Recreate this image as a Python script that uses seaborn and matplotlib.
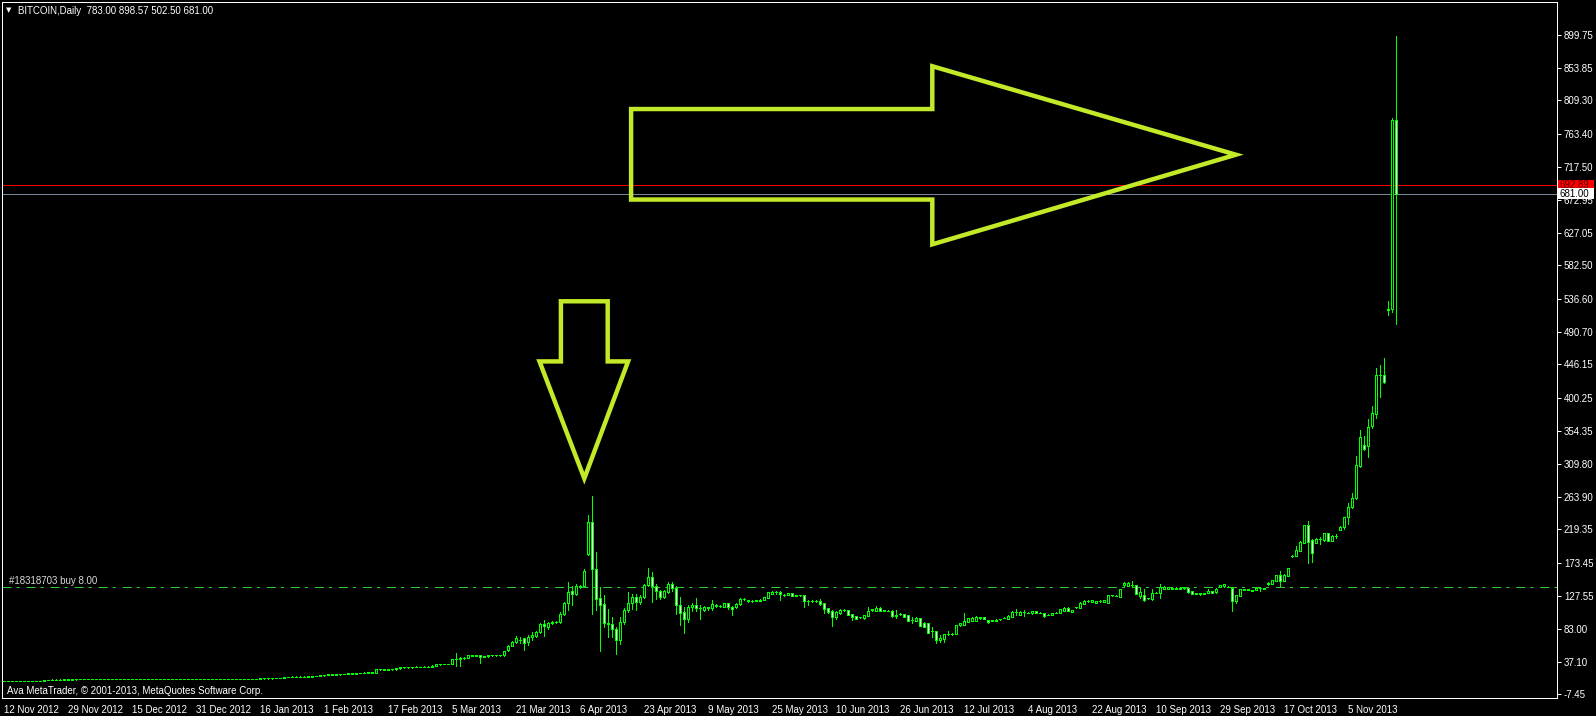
import matplotlib
matplotlib.use("Agg")
import matplotlib.pyplot as plt
import matplotlib.transforms as mtransforms
from matplotlib.patches import Rectangle, Polygon
import seaborn as sns

# daily OHLC (bar index 0 = 12 Nov 2012)
opens = [
    10.6, 10.7, 10.8, 10.7, 10.8, 10.9, 10.8, 10.9, 11.0, 10.9,
    11.0, 12.6, 12.7, 12.8, 12.7, 12.9, 13.0, 12.9, 13.1, 13.2,
    13.3, 13.5, 13.5, 13.4, 13.6, 13.5, 13.4, 13.5, 13.6, 13.4,
    13.5, 13.6, 13.7, 13.5, 13.4, 13.5, 13.6, 13.5, 13.4, 13.5,
    13.6, 13.7, 13.5, 13.4, 13.5, 13.6, 13.5, 13.4, 13.5, 13.4,
    13.5, 13.6, 13.5, 13.4, 13.5, 13.6, 13.7, 13.6, 13.5, 13.6,
    13.7, 13.8, 13.7, 13.8, 13.9, 14.3, 14.5, 14.4, 14.6, 14.5,
    14.8, 16.2, 16.4, 17.0, 16.9, 17.0, 16.8, 17.0, 17.8, 17.6,
    18.6, 19.0, 19.8, 19.5, 19.8, 20.4, 20.5, 21.2, 21.0, 21.6,
    21.9, 22.3, 23.0, 22.2, 27.2, 26.8, 26.6, 26.9, 26.7, 28.3,
    29.6, 29.9, 29.7, 30.0, 30.3, 30.1, 30.4, 30.2, 31.9, 33.8,
    34.2, 34.0, 34.6, 40.5, 40.8, 42.0, 42.6, 46.2, 45.6, 46.0,
    44.0, 44.6, 46.2, 46.0, 46.3, 46.1, 53.5, 59.4, 64.0, 67.5,
    69.5, 64.5, 72.0, 73.0, 78.0, 89.0, 85.0, 91.0, 92.4, 92.5,
    103.0, 117.7, 134.6, 130.5, 141.5, 142.0, 186.0, 229.0, 165.0, 124.6,
    117.0, 91.0, 88.8, 82.0, 67.2, 92.4, 108.5, 117.7, 126.0, 119.5,
    126.0, 142.5, 153.5, 141.5, 135.0, 126.8, 133.3, 144.0, 139.0, 115.0,
    106.0, 96.5, 112.0, 115.5, 111.7, 108.5, 112.5, 111.0, 116.0, 114.2,
    113.0, 118.0, 112.0, 112.0, 117.0, 123.5, 122.0, 121.0, 121.3, 121.5,
    122.2, 125.4, 131.0, 132.6, 133.0, 129.5, 129.0, 131.8, 128.4, 128.7,
    128.7, 121.0, 121.3, 121.0, 121.0, 117.7, 111.0, 107.0, 99.3, 104.0,
    108.8, 108.5, 103.0, 100.0, 98.2, 97.0, 100.2, 108.0, 107.0, 111.7,
    107.8, 107.8, 107.5, 100.5, 102.8, 103.0, 101.0, 94.5, 93.1, 97.5,
    91.0, 90.0, 79.8, 79.6, 67.2, 68.0, 75.3, 75.5, 75.5, 87.9,
    88.0, 92.4, 93.4, 93.4, 97.0, 99.0, 94.7, 94.0, 93.5, 95.5,
    97.8, 96.5, 99.3, 105.5, 102.0, 105.5, 105.0, 104.0, 107.0, 104.6,
    104.6, 101.8, 102.0, 104.6, 104.8, 107.0, 111.7, 106.0, 112.0, 111.7,
    117.0, 120.8, 120.0, 118.0, 120.8, 119.5, 118.5, 128.5, 128.3, 126.8,
    142.5, 141.5, 143.5, 143.0, 127.7, 129.0, 124.4, 123.2, 132.0, 131.4,
    137.8, 138.0, 138.0, 139.0, 138.0, 138.5, 138.3, 134.0, 131.0, 130.0,
    131.0, 132.5, 134.0, 133.0, 140.0, 141.0, 140.8, 139.2, 121.3, 128.2,
    136.0, 136.0, 135.5, 136.0, 138.5, 138.0, 143.8, 144.2, 148.8, 156.6,
    148.8, 155.3, 183.0, 183.0, 190.0, 201.0, 225.0, 205.0, 201.0, 206.3,
    205.0, 214.0, 204.0, 210.0, 218.5, 222.0, 236.0, 250.0, 262.0, 307.0,
    335.0, 334.5, 362.0, 378.0, 431.5, 431.7, 521.5, 522.0, 783.0,
]
highs = [
    10.9, 11.0, 11.0, 11.0, 11.1, 11.1, 11.1, 11.2, 11.2, 11.2,
    12.8, 12.9, 13.0, 13.0, 13.1, 13.2, 13.2, 13.3, 13.4, 13.5,
    13.7, 13.7, 13.7, 13.8, 13.8, 13.7, 13.7, 13.8, 13.8, 13.7,
    13.8, 13.9, 13.9, 13.7, 13.7, 13.8, 13.8, 13.7, 13.7, 13.8,
    13.9, 13.9, 13.7, 13.7, 13.8, 13.8, 13.7, 13.7, 13.7, 13.7,
    13.8, 13.8, 13.7, 13.7, 13.8, 13.9, 13.9, 13.8, 13.8, 13.9,
    14.0, 14.0, 14.0, 14.1, 14.6, 14.8, 14.8, 14.9, 14.9, 15.1,
    16.5, 16.9, 17.3, 17.3, 17.3, 17.2, 17.4, 18.1, 18.0, 18.9,
    19.3, 20.1, 20.1, 20.1, 20.7, 20.9, 21.5, 21.4, 21.9, 22.2,
    22.6, 23.6, 23.3, 27.6, 27.5, 27.2, 27.4, 27.2, 28.7, 30.0,
    30.3, 30.2, 30.5, 30.8, 30.6, 30.9, 30.8, 32.3, 34.3, 34.7,
    34.6, 34.8, 41.0, 49.0, 44.0, 43.5, 46.8, 46.6, 46.6, 46.5,
    45.0, 46.6, 46.6, 46.8, 46.6, 52.0, 61.0, 66.0, 73.0, 71.8,
    70.5, 74.0, 77.6, 79.0, 90.0, 94.7, 92.0, 94.0, 93.5, 106.0,
    120.0, 147.0, 141.0, 144.0, 143.0, 165.0, 239.0, 265.3, 188.3, 140.0,
    129.0, 109.4, 98.5, 85.5, 99.3, 111.5, 133.7, 130.5, 130.5, 129.0,
    144.0, 165.8, 161.0, 144.5, 136.0, 136.0, 147.5, 147.0, 141.0, 126.3,
    113.0, 115.0, 117.7, 125.5, 115.0, 114.0, 113.0, 122.0, 117.0, 115.0,
    118.5, 118.5, 114.0, 118.0, 125.0, 124.5, 122.5, 122.0, 122.3, 123.5,
    126.5, 133.5, 134.5, 135.0, 134.0, 130.0, 132.5, 132.3, 129.3, 129.5,
    129.3, 122.0, 122.0, 122.0, 124.0, 118.3, 111.5, 108.0, 107.0, 110.0,
    109.5, 109.0, 103.5, 100.5, 99.5, 101.5, 113.0, 110.5, 113.8, 112.3,
    109.0, 108.5, 108.0, 109.0, 104.0, 103.5, 101.5, 99.5, 98.3, 98.0,
    91.5, 90.5, 84.7, 80.0, 74.0, 76.0, 80.0, 77.0, 88.5, 91.0,
    104.8, 97.8, 98.5, 100.0, 99.5, 99.5, 95.2, 95.0, 95.8, 96.5,
    99.0, 101.0, 106.7, 109.4, 106.5, 108.0, 106.0, 107.5, 107.5, 105.5,
    105.0, 103.0, 104.5, 105.5, 110.0, 112.3, 112.0, 108.5, 113.0, 119.0,
    122.0, 122.0, 122.5, 121.5, 121.8, 122.5, 129.5, 129.5, 129.0, 137.5,
    147.0, 146.5, 148.4, 143.5, 139.3, 137.0, 125.5, 137.0, 133.0, 143.8,
    141.0, 140.5, 139.5, 139.5, 139.5, 140.5, 139.0, 134.5, 132.0, 132.5,
    132.0, 137.5, 134.5, 138.5, 143.5, 144.5, 141.5, 140.0, 129.5, 137.5,
    137.5, 138.0, 136.0, 139.5, 140.5, 139.0, 146.5, 150.2, 157.0, 162.0,
    157.5, 166.5, 184.5, 196.5, 203.0, 226.0, 231.0, 206.0, 207.0, 209.3,
    215.0, 215.0, 211.0, 213.0, 223.5, 237.0, 255.2, 269.0, 320.0, 356.0,
    348.0, 371.0, 389.0, 441.0, 445.5, 455.5, 533.5, 785.0, 898.57,
]
lows = [
    10.4, 10.5, 10.6, 10.5, 10.6, 10.7, 10.6, 10.7, 10.8, 10.7,
    10.9, 12.4, 12.5, 12.5, 12.5, 12.7, 12.7, 12.7, 12.9, 13.0,
    13.1, 13.3, 13.2, 13.2, 13.3, 13.2, 13.2, 13.3, 13.2, 13.2,
    13.3, 13.4, 13.3, 13.2, 13.2, 13.3, 13.3, 13.2, 13.2, 13.3,
    13.4, 13.3, 13.2, 13.2, 13.3, 13.3, 13.2, 13.2, 13.2, 13.2,
    13.3, 13.3, 13.2, 13.2, 13.3, 13.4, 13.4, 13.3, 13.3, 13.4,
    13.5, 13.5, 13.5, 13.6, 13.7, 14.1, 14.2, 14.2, 14.3, 14.3,
    14.6, 16.0, 16.2, 16.6, 16.7, 16.5, 16.6, 16.8, 17.3, 17.4,
    18.3, 18.8, 19.2, 19.2, 19.6, 20.1, 20.2, 20.7, 20.8, 21.3,
    21.6, 22.0, 21.8, 21.8, 26.3, 26.1, 26.2, 26.2, 26.4, 28.0,
    29.3, 29.3, 29.4, 29.7, 29.7, 29.8, 29.8, 29.9, 31.6, 33.4,
    33.6, 33.7, 34.3, 31.5, 31.8, 41.5, 42.2, 45.0, 45.1, 36.0,
    43.5, 44.2, 45.6, 45.8, 45.7, 45.8, 52.5, 58.5, 63.0, 62.7,
    53.5, 61.0, 67.0, 72.0, 77.0, 73.0, 83.0, 89.0, 91.0, 91.0,
    102.0, 108.5, 115.0, 129.0, 139.0, 141.0, 184.0, 103.0, 108.5, 52.0,
    85.5, 71.8, 71.8, 47.4, 62.0, 89.0, 106.0, 109.4, 109.0, 117.0,
    125.0, 141.0, 119.0, 124.0, 124.0, 125.0, 132.0, 135.0, 103.0, 88.0,
    77.0, 92.0, 107.0, 107.0, 96.0, 107.0, 109.0, 108.0, 113.0, 113.0,
    112.5, 110.0, 102.0, 111.0, 116.0, 122.0, 120.0, 120.0, 120.5, 121.0,
    121.8, 125.0, 130.5, 130.0, 122.2, 128.0, 128.5, 127.5, 127.8, 127.8,
    113.0, 116.0, 120.0, 120.0, 115.5, 104.0, 105.0, 86.5, 96.0, 103.0,
    107.5, 101.0, 94.7, 96.0, 97.0, 96.5, 100.0, 107.5, 106.5, 106.5,
    107.0, 106.8, 99.5, 97.0, 102.0, 99.0, 93.0, 91.0, 92.8, 86.0,
    85.0, 76.8, 71.0, 63.5, 65.0, 64.9, 74.0, 74.5, 75.0, 87.0,
    87.5, 92.0, 93.0, 93.0, 96.5, 96.0, 91.0, 93.5, 93.0, 95.0,
    97.0, 96.0, 99.0, 102.0, 101.5, 100.0, 104.0, 103.5, 104.0, 104.0,
    98.5, 101.0, 101.5, 104.0, 104.3, 106.5, 106.5, 105.5, 111.5, 111.0,
    116.5, 120.0, 119.5, 117.5, 120.0, 119.0, 118.0, 128.0, 127.5, 126.5,
    142.0, 141.0, 139.7, 130.0, 125.0, 121.0, 123.5, 122.0, 131.5, 125.5,
    137.3, 137.5, 137.5, 137.5, 137.5, 138.0, 132.5, 130.5, 130.5, 129.5,
    130.5, 132.0, 132.0, 132.5, 139.5, 140.5, 139.5, 107.5, 117.7, 127.5,
    135.5, 135.5, 134.5, 135.5, 135.0, 137.5, 143.5, 143.8, 148.3, 141.5,
    148.0, 155.0, 182.0, 182.5, 189.5, 200.2, 173.7, 175.0, 200.0, 199.3,
    204.0, 203.0, 203.0, 208.0, 218.0, 219.9, 226.8, 249.0, 261.0, 305.0,
    329.0, 319.0, 358.4, 372.0, 401.8, 420.5, 514.6, 518.0, 502.5,
]
closes = [
    10.7, 10.8, 10.7, 10.8, 10.9, 10.8, 10.9, 11.0, 10.9, 11.0,
    12.6, 12.7, 12.8, 12.7, 12.9, 13.0, 12.9, 13.1, 13.2, 13.3,
    13.5, 13.5, 13.4, 13.6, 13.5, 13.4, 13.5, 13.6, 13.4, 13.5,
    13.6, 13.7, 13.5, 13.4, 13.5, 13.6, 13.5, 13.4, 13.5, 13.6,
    13.7, 13.5, 13.4, 13.5, 13.6, 13.5, 13.4, 13.5, 13.4, 13.5,
    13.6, 13.5, 13.4, 13.5, 13.6, 13.7, 13.6, 13.5, 13.6, 13.7,
    13.8, 13.7, 13.8, 13.9, 14.3, 14.5, 14.4, 14.6, 14.5, 14.8,
    16.2, 16.6, 17.0, 16.9, 17.0, 16.8, 17.1, 17.8, 17.6, 18.6,
    19.0, 19.8, 19.5, 19.8, 20.4, 20.6, 21.2, 21.0, 21.6, 21.9,
    22.3, 23.0, 22.2, 27.2, 26.8, 26.6, 26.9, 26.7, 28.3, 29.6,
    29.9, 29.7, 30.0, 30.3, 30.1, 30.4, 30.2, 31.9, 33.8, 34.2,
    34.0, 34.4, 40.5, 40.8, 42.0, 42.6, 46.2, 45.6, 46.0, 44.0,
    44.6, 46.2, 46.0, 46.3, 46.1, 51.5, 59.4, 64.5, 70.0, 67.2,
    63.5, 71.8, 73.5, 78.0, 89.0, 86.0, 91.0, 92.3, 92.6, 103.0,
    117.7, 133.7, 130.5, 141.5, 142.0, 162.0, 229.0, 164.5, 124.0, 115.4,
    91.0, 89.0, 82.0, 67.2, 92.4, 108.5, 117.7, 126.0, 119.5, 126.0,
    142.5, 153.5, 142.0, 135.0, 126.8, 134.5, 144.2, 139.0, 115.0, 104.8,
    96.5, 112.0, 115.5, 111.0, 111.5, 112.7, 110.8, 116.3, 114.2, 114.0,
    117.8, 112.0, 110.0, 117.0, 124.0, 123.0, 121.0, 121.3, 121.6, 122.8,
    126.0, 132.8, 133.0, 132.8, 130.0, 129.1, 131.8, 128.0, 128.7, 128.5,
    121.0, 121.3, 121.0, 121.2, 117.0, 110.3, 106.0, 99.3, 106.0, 109.0,
    108.5, 101.6, 98.5, 96.7, 98.4, 101.0, 107.5, 110.0, 111.7, 107.0,
    108.0, 107.5, 100.2, 102.0, 103.0, 99.5, 93.4, 94.7, 97.7, 86.5,
    85.5, 77.3, 80.0, 67.2, 70.0, 75.5, 75.5, 75.8, 87.9, 90.2,
    93.4, 97.0, 97.7, 99.3, 99.0, 96.5, 91.6, 94.3, 95.2, 95.7,
    98.0, 100.2, 106.0, 105.7, 106.0, 105.7, 104.8, 107.0, 104.3, 104.8,
    100.2, 102.0, 104.0, 104.8, 109.4, 111.7, 107.0, 108.0, 112.2, 118.5,
    121.3, 121.0, 122.0, 121.0, 121.0, 122.0, 129.1, 128.7, 128.0, 137.0,
    146.0, 146.0, 143.3, 130.6, 132.8, 122.0, 124.6, 132.3, 132.3, 140.5,
    140.5, 140.0, 139.0, 138.0, 139.0, 140.0, 133.0, 131.0, 131.5, 132.0,
    131.5, 134.0, 132.5, 138.0, 143.0, 144.0, 140.5, 121.3, 129.0, 137.0,
    137.0, 137.5, 135.0, 139.0, 138.3, 138.3, 146.0, 149.7, 156.6, 148.8,
    156.6, 165.8, 183.2, 191.0, 202.0, 225.0, 201.6, 187.3, 206.0, 206.5,
    214.0, 204.0, 210.0, 210.3, 223.0, 236.0, 250.0, 262.0, 307.5, 346.0,
    330.0, 360.0, 379.0, 431.7, 431.7, 421.6, 522.0, 783.0, 681.0,
]

date_labels = ["12 Nov 2012", "29 Nov 2012", "15 Dec 2012", "31 Dec 2012",
               "16 Jan 2013", "1 Feb 2013", "17 Feb 2013", "5 Mar 2013",
               "21 Mar 2013", "6 Apr 2013", "23 Apr 2013", "9 May 2013",
               "25 May 2013", "10 Jun 2013", "26 Jun 2013", "12 Jul 2013",
               "4 Aug 2013", "22 Aug 2013", "10 Sep 2013", "29 Sep 2013",
               "17 Oct 2013", "5 Nov 2013"]
price_ticks = [899.75, 853.85, 809.30, 763.40, 717.50, 672.95, 627.05, 582.50,
               536.60, 490.70, 446.15, 400.25, 354.35, 309.80, 263.90, 219.35,
               173.45, 127.55, 83.00, 37.10, -7.45]

ask_price = 692.89
bid_price = 681.00
order_price = 139.7
order_label = "#18318703 buy 8.00"
header = "BITCOIN,Daily  783.00 898.57 502.50 681.00"

sns.set_theme(style="dark", rc={
    "figure.facecolor": "black", "axes.facecolor": "black",
    "axes.edgecolor": "white", "axes.grid": False,
    "xtick.color": "white", "ytick.color": "white",
    "text.color": "white", "lines.scale_dashes": False,
})
plt.rcParams["font.family"] = ["Liberation Sans", "DejaVu Sans"]

W, H = 1596, 716
fig = plt.figure(figsize=(W / 100, H / 100), dpi=100)
ax = fig.add_axes([2 / W, 17.7 / H, 1555 / W, 696 / H])

px = 0.72  # one pixel in points
bull = "#00ff00"
n = len(closes)
idx = list(range(n))

ax.vlines(idx, lows, highs, colors=bull, linewidth=px, antialiased=False, zorder=3)
for i in idx:
    o, c = opens[i], closes[i]
    lo, hi = min(o, c), max(o, c)
    face = "black" if c >= o else "white"
    ax.add_patch(Rectangle((i - 0.25, lo), 0.5, hi - lo, facecolor=face,
                           edgecolor=bull, linewidth=px, antialiased=False, zorder=4))

ax.axhline(ask_price, color="#ff0000", linewidth=px, zorder=2)
ax.axhline(bid_price, color="#778899", linewidth=px, zorder=2)
ax.axhline(order_price, color="#32cd32", linewidth=px, zorder=2,
           linestyle=(0, (6.5, 3.6, 2.2, 5.0)))

# hand-drawn arrows on the chart
arrow_col = "#c3ea28"
ax.add_patch(Polygon([(156.9, 797.5), (232.2, 797.5), (232.2, 856.4), (308.1, 734.7),
                      (232.2, 611.4), (232.2, 673.0), (156.9, 673.0)], closed=True,
                     fill=False, edgecolor=arrow_col, linewidth=3.2, joinstyle="miter", zorder=5))
ax.add_patch(Polygon([(139.35, 533.1), (151.05, 533.1), (151.05, 450.4), (156.15, 450.4),
                      (145.2, 289.5), (134.0, 450.4), (139.35, 450.4)], closed=True,
                     fill=False, edgecolor=arrow_col, linewidth=3.2, joinstyle="miter", zorder=5))

ax.set_xlim(-0.375, 388.375)
ax.set_ylim(-12.95, 944.3)

ax.yaxis.tick_right()
ax.set_yticks(price_ticks)
ax.set_yticklabels([f"{v:.2f}" for v in price_ticks])
ax.set_xticks(range(0, 16 * len(date_labels), 16))
ax.set_xticklabels(date_labels, ha="left")
ax.tick_params(axis="y", direction="out", length=3, width=px, pad=2, labelsize=7, colors="white")
ax.tick_params(axis="x", direction="out", length=4, width=px, pad=1, labelsize=7, colors="white")
for s in ax.spines.values():
    s.set_color("white")
    s.set_linewidth(px)

# price boxes on the right scale
blend = mtransforms.blended_transform_factory(ax.transAxes, ax.transData)
for price, bg, fg in [(ask_price, "#ff0000", "#600000"), (bid_price, "white", "black")]:
    ax.add_patch(Rectangle((1.0006, price - 7.5), 0.0232, 15.0, transform=blend,
                           facecolor=bg, edgecolor="none", clip_on=False, zorder=10))
    ax.text(1.0019, price, f"{price:.2f}", transform=blend, color=fg, fontsize=7,
            ha="left", va="center", clip_on=False, zorder=11)

fig.text(9 / W, 1 - 10 / H, "\u25bc", fontsize=5, color="white", ha="center", va="center",
         family="DejaVu Sans")
fig.text(18 / W, 1 - 10.5 / H, header, fontsize=7, color="white", ha="left", va="center")
fig.text(9 / W, 1 - 581.5 / H, order_label, fontsize=7, color="#d8d8d8", ha="left", va="center")
fig.text(7 / W, 1 - 690.5 / H, "Ava MetaTrader, \u00a9 2001-2013, MetaQuotes Software Corp.",
         fontsize=7, color="white", ha="left", va="center")

fig.savefig("out.png", dpi=100, facecolor="black")
